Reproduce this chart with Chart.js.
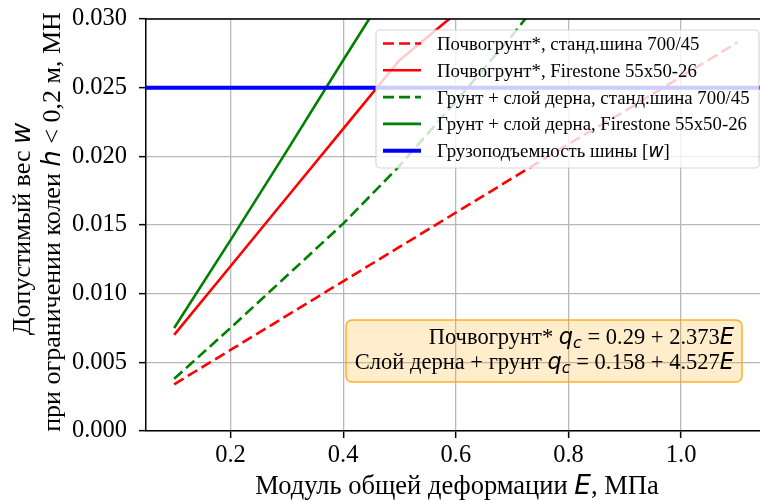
<!DOCTYPE html>
<html>
<head>
<meta charset="utf-8">
<script src="https://cdn.jsdelivr.net/npm/chart.js@4/dist/chart.umd.min.js"></script>
<style>
  html, body { margin: 0; padding: 0; background: #fff; }
  #wrap { width: 760px; height: 500px; }
</style>
</head>
<body>
<div id="wrap"><canvas id="chart" width="760" height="500"></canvas></div>
<script>
// values
const E_VALUES = [0.1, 0.2, 0.3, 0.4, 0.5, 0.6, 0.7, 0.8, 0.9, 1.0, 1.1];
const soilStd = [0.0034, 0.0059, 0.0084, 0.0109, 0.0134, 0.0159, 0.0184, 0.0209, 0.0233, 0.0258, 0.0283];
const soilFirestone = [0.0070, 0.0120, 0.0170, 0.0220, 0.0270, 0.0304, 0.0340];
const turfStd = [0.0038, 0.0075, 0.0113, 0.0151, 0.0193, 0.0240, 0.0288, 0.0340];
const turfFirestone = [0.0075, 0.0139, 0.0204, 0.0270, 0.0335];
const tireCapacity = 0.025;

const X_TICKS = [0.2, 0.4, 0.6, 0.8, 1.0];
const Y_TICKS = [0.000, 0.005, 0.010, 0.015, 0.020, 0.025, 0.030];
const X_MIN = 0.05, X_MAX = 1.14;
const Y_MIN = 0, Y_MAX = 0.03;

const LABELS = [
  'Почвогрунт*, станд.шина 700/45',
  'Почвогрунт*, Firestone 55x50-26',
  'Грунт + слой дерна, станд.шина 700/45',
  'Грунт + слой дерна, Firestone 55x50-26',
  'Грузоподъемность шины',
];

const SERIF = '"Liberation Serif", "Times New Roman", serif';
const MATH = '"DejaVu Sans", sans-serif';
const DASH = [11, 5];

function toPoints(ys) {
  return ys.map((y, i) => ({ x: E_VALUES[i], y }));
}

// draws a row of text pieces with different fonts
function drawParts(ctx, parts, x, y, align) {
  let total = 0;
  parts.forEach((p) => { ctx.font = p.f; total += ctx.measureText(p.t).width; });
  let cx = align === 'right' ? x - total : align === 'center' ? x - total / 2 : x;
  ctx.textAlign = 'left';
  ctx.textBaseline = 'alphabetic';
  parts.forEach((p) => {
    ctx.font = p.f;
    ctx.fillText(p.t, cx, y + (p.dy || 0));
    cx += ctx.measureText(p.t).width;
  });
}

function roundRect(ctx, x, y, w, h, r) {
  ctx.beginPath();
  ctx.moveTo(x + r, y);
  ctx.arcTo(x + w, y, x + w, y + h, r);
  ctx.arcTo(x + w, y + h, x, y + h, r);
  ctx.arcTo(x, y + h, x, y, r);
  ctx.arcTo(x, y, x + w, y, r);
  ctx.closePath();
}

const decor = {
  id: 'decor',
  afterDraw(chart) {
    const ctx = chart.ctx;
    const area = chart.chartArea;
    ctx.save();

    // top spine
    ctx.strokeStyle = '#000';
    ctx.lineWidth = 1.5;
    ctx.beginPath();
    ctx.moveTo(area.left, area.top);
    ctx.lineTo(area.right, area.top);
    ctx.stroke();

    // legend box
    roundRect(ctx, 376, 30, 383, 138, 4);
    ctx.fillStyle = 'rgba(255,255,255,0.8)';
    ctx.fill();
    ctx.strokeStyle = 'rgba(204,204,204,0.8)';
    ctx.lineWidth = 1.2;
    ctx.stroke();

    const lf = '18.8px ' + SERIF;
    const rowY = [43.5, 70.3, 97.1, 123.9, 150.7];
    chart.data.datasets.forEach((ds, i) => {
      const y = rowY[i];
      ctx.strokeStyle = ds.borderColor;
      ctx.lineWidth = ds.borderWidth;
      ctx.setLineDash(ds.borderDash || []);
      ctx.beginPath();
      ctx.moveTo(383, y);
      ctx.lineTo(421, y);
      ctx.stroke();
      ctx.setLineDash([]);
      ctx.fillStyle = '#000';
      const parts = [{ t: LABELS[i], f: lf }];
      if (i === 4) {
        parts.push({ t: ' [', f: lf });
        parts.push({ t: 'w', f: 'italic 18.8px ' + MATH });
        parts.push({ t: ']', f: lf });
      }
      drawParts(ctx, parts, 437, y + 6.5, 'left');
    });

    // equation box
    roundRect(ctx, 346, 320, 396, 62, 6);
    ctx.fillStyle = 'rgba(255,165,0,0.2)';
    ctx.fill();
    ctx.strokeStyle = 'rgba(255,165,0,0.85)';
    ctx.lineWidth = 1.5;
    ctx.stroke();
    ctx.fillStyle = '#000';
    const f = '22.5px ' + SERIF, fi = 'italic 22.5px ' + MATH, fs = 'italic 16px ' + MATH;
    drawParts(ctx, [
      { t: 'Почвогрунт* ', f }, { t: 'q', f: fi }, { t: 'c', f: fs, dy: 4 },
      { t: ' = 0.29 + 2.373', f }, { t: 'E', f: fi },
    ], 734, 344, 'right');
    drawParts(ctx, [
      { t: 'Слой дерна + грунт ', f }, { t: 'q', f: fi }, { t: 'c', f: fs, dy: 4 },
      { t: ' = 0.158 + 4.527', f }, { t: 'E', f: fi },
    ], 734, 369, 'right');

    // axis titles
    const tf = '26.5px ' + SERIF, tfi = 'italic 26.5px ' + MATH;
    drawParts(ctx, [
      { t: 'Модуль общей деформации ', f: tf }, { t: 'E', f: tfi }, { t: ', МПа', f: tf },
    ], 457, 494, 'center');

    const yf = '26px ' + SERIF, yfi = 'italic 26px ' + MATH;
    ctx.save();
    ctx.translate(29.5, 229);
    ctx.rotate(-Math.PI / 2);
    drawParts(ctx, [{ t: 'Допустимый вес ', f: yf }, { t: 'w', f: yfi }], 0, 0, 'center');
    ctx.restore();
    ctx.save();
    ctx.translate(60, 222);
    ctx.rotate(-Math.PI / 2);
    drawParts(ctx, [
      { t: 'при ограничении колеи ', f: yf }, { t: 'h', f: yfi }, { t: ' < 0,2 м, МН', f: yf },
    ], 0, 0, 'center');
    ctx.restore();

    ctx.restore();
  },
};

const tickFont = { family: SERIF, size: 24.5 };
const gridStyle = { color: '#b8b8b8', lineWidth: 1.3, tickLength: 7, tickColor: '#000', tickWidth: 1.5 };

new Chart(document.getElementById('chart'), {
  type: 'line',
  data: {
    datasets: [
      { data: toPoints(soilStd), borderColor: '#ff0000', borderWidth: 2.6, borderDash: DASH, order: 5 },
      { data: toPoints(soilFirestone), borderColor: '#ff0000', borderWidth: 2.6, order: 4 },
      { data: toPoints(turfStd), borderColor: '#008000', borderWidth: 2.6, borderDash: DASH, order: 3 },
      { data: toPoints(turfFirestone), borderColor: '#008000', borderWidth: 2.6, order: 2 },
      {
        data: [{ x: X_MIN, y: tireCapacity }, { x: X_MAX, y: tireCapacity }],
        borderColor: '#0000ff', borderWidth: 4, order: 1,
      },
    ],
  },
  options: {
    responsive: false,
    devicePixelRatio: 1,
    animation: false,
    layout: { padding: { top: 19, left: 0, right: 0, bottom: 0 } },
    elements: { point: { radius: 0 }, line: { tension: 0, fill: false } },
    plugins: { legend: { display: false }, tooltip: { enabled: false } },
    scales: {
      x: {
        type: 'linear',
        min: X_MIN,
        max: X_MAX,
        afterBuildTicks: (s) => { s.ticks = X_TICKS.map((v) => ({ value: v })); },
        afterFit: (s) => { s.height = 69; s.paddingLeft = 0; s.paddingRight = 0; },
        ticks: { font: tickFont, color: '#000', padding: 3, maxRotation: 0, callback: (v) => v.toFixed(1) },
        grid: gridStyle,
        border: { color: '#000', width: 1.5 },
      },
      y: {
        type: 'linear',
        min: Y_MIN,
        max: Y_MAX,
        afterBuildTicks: (s) => { s.ticks = Y_TICKS.map((v) => ({ value: v })); },
        afterFit: (s) => { s.width = 146; s.paddingTop = 0; s.paddingBottom = 0; },
        ticks: { font: tickFont, color: '#000', padding: 12, callback: (v) => v.toFixed(3) },
        grid: gridStyle,
        border: { color: '#000', width: 1.5 },
      },
    },
  },
  plugins: [decor],
});
</script>
</body>
</html>
